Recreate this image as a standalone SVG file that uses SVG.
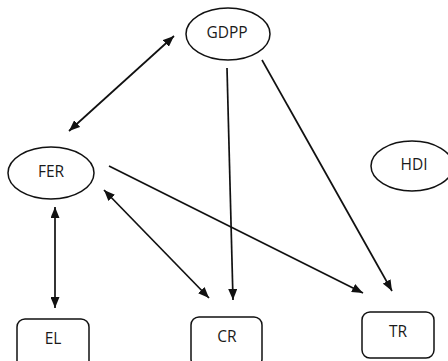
<svg xmlns="http://www.w3.org/2000/svg" width="448" height="361" viewBox="0 0 448 361">
<defs>
<style>
.shape{fill:#fff;stroke:#111;stroke-width:1.5}
.lbl{font-family:"Open Sans","Liberation Sans",sans-serif;font-size:15.5px;fill:#1a1a1a;text-anchor:middle;dominant-baseline:central}
.conn{stroke:#111;stroke-width:1.7;fill:none}
</style>
<marker id="ah" viewBox="0 0 11 9" refX="11" refY="4.5" markerWidth="11" markerHeight="9" markerUnits="userSpaceOnUse" orient="auto-start-reverse">
<path d="M0,0 L11,4.5 L0,9 z" fill="#111"/>
</marker>
</defs>
<rect width="448" height="361" fill="#fff"/>
<g id="connectors">
<line class="conn" x1="69" y1="131" x2="174" y2="36" marker-start="url(#ah)" marker-end="url(#ah)"/>
<line class="conn" x1="227" y1="68" x2="233" y2="300" marker-end="url(#ah)"/>
<line class="conn" x1="262" y1="60" x2="392" y2="291" marker-end="url(#ah)"/>
<line class="conn" x1="109" y1="166" x2="363" y2="293" marker-end="url(#ah)"/>
<line class="conn" x1="104" y1="190" x2="209" y2="298" marker-start="url(#ah)" marker-end="url(#ah)"/>
<line class="conn" x1="55" y1="207" x2="55" y2="308" marker-start="url(#ah)" marker-end="url(#ah)"/>
</g>
<g id="GDPP">
<ellipse class="shape" cx="228" cy="34" rx="42" ry="26"/>
<text class="lbl" x="227" y="32">GDPP</text>
</g>
<g id="FER">
<ellipse class="shape" cx="51" cy="173" rx="43" ry="26"/>
<text class="lbl" x="51" y="171">FER</text>
</g>
<g id="HDI">
<ellipse class="shape" cx="412" cy="166" rx="41" ry="25"/>
<text class="lbl" x="414" y="164">HDI</text>
</g>
<g id="EL">
<rect class="shape" x="17" y="319" width="72" height="50" rx="8"/>
<text class="lbl" x="53" y="338">EL</text>
</g>
<g id="CR">
<rect class="shape" x="191" y="317" width="71" height="50" rx="8"/>
<text class="lbl" x="227" y="336">CR</text>
</g>
<g id="TR">
<rect class="shape" x="362" y="312" width="72" height="46" rx="8"/>
<text class="lbl" x="398" y="331">TR</text>
</g>
</svg>
